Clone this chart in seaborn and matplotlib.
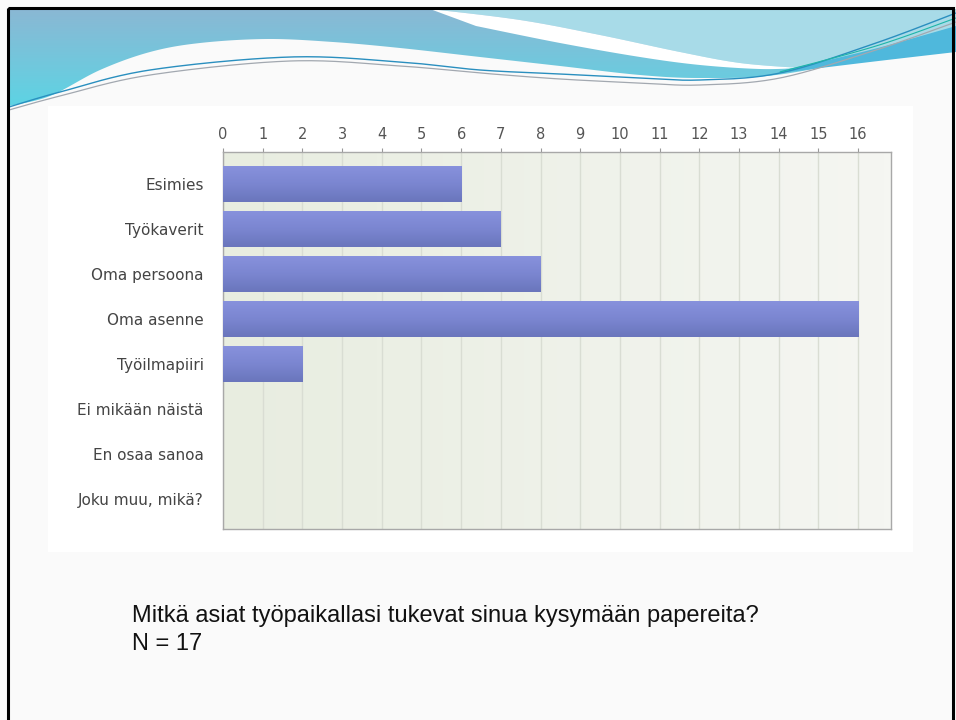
import numpy as np
import matplotlib
matplotlib.use("Agg")
import matplotlib.pyplot as plt
from matplotlib.colors import LinearSegmentedColormap
from matplotlib.patches import Polygon, Rectangle
import seaborn as sns

categories = [
    "Esimies",
    "Työkaverit",
    "Oma persoona",
    "Oma asenne",
    "Työilmapiiri",
    "Ei mikään näistä",
    "En osaa sanoa",
    "Joku muu, mikä?",
]
counts = [6, 7, 8, 16, 2, 0, 0, 0]
x_ticks = list(range(0, 17))
question = "Mitkä asiat työpaikallasi tukevat sinua kysymään papereita?"
n_label = "N = 17"


def smooth(pts, n=30):
    # catmull-rom through the given points, for the slide decoration only
    p = np.asarray(pts, dtype=float)
    p = np.vstack([p[0], p, p[-1]])
    out = []
    t = np.linspace(0, 1, n)[:, None]
    for i in range(1, len(p) - 2):
        p0, p1, p2, p3 = p[i - 1], p[i], p[i + 1], p[i + 2]
        seg = 0.5 * ((2 * p1) + (-p0 + p2) * t + (2 * p0 - 5 * p1 + 4 * p2 - p3) * t**2
                     + (-p0 + 3 * p1 - 3 * p2 + p3) * t**3)
        out.append(seg)
    return np.vstack(out)


sns.set_theme(style="white")
fig = plt.figure(figsize=(9.56, 7.2), dpi=100)
fig.patch.set_facecolor("#fafafa")

# slide background and header
bg = fig.add_axes([0, 0, 1, 1])
bg.set_xlim(0, 956)
bg.set_ylim(720, 0)
bg.axis("off")

bg.add_patch(Rectangle((48, 106), 865, 446, facecolor="white", edgecolor="none"))

edge = smooth([(9, 106), (50, 96), (100, 70), (150, 52), (200, 43), (267, 39), (333, 42),
               (400, 48), (480, 57), (560, 66), (640, 75), (700, 78), (776, 75),
               (876, 57), (956, 44)])
band = np.vstack([[(9, 9)], edge, [(956, 9)]])
poly = Polygon(band, closed=True, facecolor="none", edgecolor="none")
bg.add_patch(poly)
grad_cmap = LinearSegmentedColormap.from_list("hdr", ["#8ab8d4", "#74c6dc", "#5cd4e4"])
img = bg.imshow(np.linspace(0, 1, 100).reshape(-1, 1), cmap=grad_cmap, aspect="auto",
                extent=(9, 956, 108, 9), origin="upper", zorder=1)
img.set_clip_path(poly)

s_up = smooth([(430, 9), (520, 20), (600, 35), (680, 52), (740, 63), (800, 68)])
light = np.vstack([s_up, [(870, 54), (956, 30), (956, 9)]])
bg.add_patch(Polygon(light, closed=True, facecolor="#a8dbe8", edgecolor="none", zorder=2))
s_low = smooth([(476, 26), (560, 43), (640, 57), (700, 65), (760, 69), (800, 68)])
streak = np.vstack([s_up, s_low[::-1]])
bg.add_patch(Polygon(streak, closed=True, facecolor="white", edgecolor="none", zorder=3))
swoosh_top = smooth([(780, 71), (870, 50), (956, 26)])
swoosh_bot = smooth([(780, 73), (870, 62), (956, 52)])
bg.add_patch(Polygon(np.vstack([swoosh_top, swoosh_bot[::-1]]), closed=True,
                     facecolor="#4fb8dc", edgecolor="none", zorder=3))

line1 = smooth([(9, 107), (60, 92), (150, 70), (290, 57), (400, 62), (480, 70), (560, 74),
                (640, 78), (700, 80), (780, 73), (876, 43), (956, 13)])
line2 = smooth([(9, 110), (60, 96), (150, 75), (290, 61), (400, 66), (480, 73), (560, 79),
                (640, 83), (700, 85), (780, 78), (876, 50), (956, 22)])
line3 = smooth([(780, 72), (876, 46), (956, 18)])
bg.plot(line1[:, 0], line1[:, 1], color="#2a8fbf", lw=1.0, zorder=4)
bg.plot(line2[:, 0], line2[:, 1], color="#a2a8b0", lw=0.9, zorder=4)
bg.plot(line3[:, 0], line3[:, 1], color="#1fb5a8", lw=0.8, zorder=4)

bg.add_patch(Rectangle((8.5, 8), 944.5, 730, facecolor="none", edgecolor="black",
                       lw=2.2, zorder=5))

# chart
ax = fig.add_axes([223 / 956, 1 - 529 / 720, 668 / 956, 377 / 720])
ax_cmap = LinearSegmentedColormap.from_list("panel", ["#e8ede0", "#f5f6f2"])
ax.imshow(np.linspace(0, 1, 100).reshape(1, -1), cmap=ax_cmap, aspect="auto",
          extent=(0, 16.83, 7.667, -0.711), zorder=0)

sns.barplot(x=counts, y=categories, orient="h", color="#7a85cf", width=0.82,
            edgecolor="none", ax=ax, zorder=3)

bar_cmap = LinearSegmentedColormap.from_list("bar", ["#8892dd", "#7b86d1", "#6a76bc"])
for patch in ax.patches:
    x0, y0 = patch.get_x(), patch.get_y()
    w, h = patch.get_width(), patch.get_height()
    if w <= 0:
        continue
    g = ax.imshow(np.linspace(0, 1, 60).reshape(-1, 1), cmap=bar_cmap, aspect="auto",
                  extent=(x0, x0 + w, y0 + h, y0), origin="upper", zorder=4)
    g.set_clip_path(patch)

ax.set_xlim(0, 16.83)
ax.set_ylim(7.667, -0.711)
ax.set_xticks(x_ticks)
ax.set_xticklabels([str(t) for t in x_ticks])
ax.xaxis.tick_top()
ax.grid(axis="x", color="#d9ddd3", lw=1.0, zorder=1)
ax.set_axisbelow(True)
ax.set_xlabel("")
ax.set_ylabel("")
ax.tick_params(axis="x", top=True, bottom=False, length=3, width=0.8, color="#999999",
               labelsize=10.5, labelcolor="#555555", pad=4)
ax.tick_params(axis="y", left=False, labelsize=11, labelcolor="#444444", pad=8)
for side in ["left", "right", "top", "bottom"]:
    ax.spines[side].set_visible(True)
    ax.spines[side].set_color("#a8a8a8")
    ax.spines[side].set_linewidth(1.0)

fig.text(132 / 956, 1 - 622 / 720, question, fontsize=17, color="#111111",
         family=["Liberation Sans Narrow", "Liberation Sans"], ha="left", va="baseline")
fig.text(132 / 956, 1 - 650 / 720, n_label, fontsize=17, color="#111111",
         family=["Liberation Sans Narrow", "Liberation Sans"], ha="left", va="baseline")

fig.savefig("out.png", dpi=100, facecolor=fig.get_facecolor())
